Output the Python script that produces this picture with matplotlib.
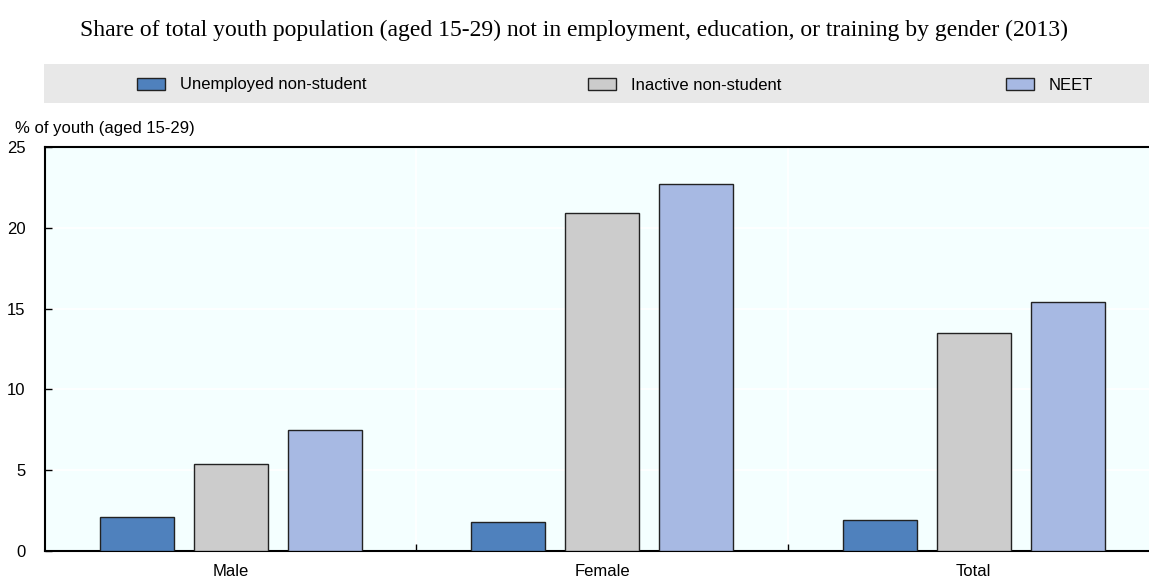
import matplotlib
matplotlib.use("Agg")
import matplotlib.pyplot as plt
from matplotlib.patches import Rectangle
import numpy as np

categories = ["Male", "Female", "Total"]
series_names = ["Unemployed non-student", "Inactive non-student", "NEET"]
unemployed = [2.1, 1.8, 1.9]
inactive = [5.4, 20.9, 13.5]
neet = [7.5, 22.7, 15.4]
colors = ["#4F81BD", "#CCCCCC", "#A7B9E3"]
yticks = [0, 5, 10, 15, 20, 25]

W, H = 1149, 577
fig = plt.figure(figsize=(W / 100, H / 100), dpi=100)
plt.rcParams['font.family'] = ['Liberation Sans', 'DejaVu Sans']

ax = fig.add_axes([45 / W, (H - 551) / H, (W - 45) / W, 404 / H])
ax.set_facecolor("#F4FFFF")

x = np.arange(len(categories))
bw = 0.199
step = 0.253
for i, (vals, c) in enumerate(zip([unemployed, inactive, neet], colors)):
    ax.bar(x + (i - 1) * step, vals, width=bw, color=c, edgecolor="#222222",
           linewidth=1.0, zorder=3)

ax.set_xlim(-0.5, -0.5 + (W - 45) / 371.5)
ax.set_ylim(0, 25)
ax.set_yticks(yticks)
ax.set_yticklabels([str(t) for t in yticks], fontsize=12)
for t in yticks[1:-1]:
    ax.axhline(t, color="white", lw=1.2, zorder=1)
for b in [0.5, 1.5]:
    ax.axvline(b, color="white", lw=1.2, zorder=1)

ax.set_xticks(x)
ax.set_xticklabels(categories, fontsize=12)
ax.tick_params(axis='x', length=0, pad=9)
ax.tick_params(axis='y', direction='in', length=5, width=1, pad=14, left=True)
ax.set_xticks([0.5, 1.5], minor=True)
ax.tick_params(axis='x', which='minor', direction='in', length=5, width=1)

ax.spines["right"].set_visible(False)
ax.spines["left"].set_linewidth(1.5)
ax.spines["bottom"].set_linewidth(1.5)
ax.spines["top"].set_linewidth(1.5)

# Title
fig.text(0.5, 1 - 30 / H, "Share of total youth population (aged 15-29) not in employment, education, or training by gender (2013)",
         ha="center", va="center", fontsize=17, family=["Liberation Serif", "DejaVu Serif"])

# Legend band
fig.patches.append(Rectangle((44 / W, 1 - 103 / H), (W - 44) / W, 39 / H,
                             transform=fig.transFigure, facecolor="#E8E8E8",
                             edgecolor="none", zorder=0))
leg_box_x = [137, 588, 1006]
for bx, name, c in zip(leg_box_x, series_names, colors):
    fig.patches.append(Rectangle((bx / W, 1 - 90 / H), 28 / W, 12 / H,
                                 transform=fig.transFigure, facecolor=c,
                                 edgecolor="#222222", lw=1.0, zorder=2))
    fig.text((bx + 43) / W, 1 - 85 / H, name, ha="left", va="center", fontsize=12)

fig.text(15 / W, 1 - 128 / H, "% of youth (aged 15-29)", ha="left", va="center", fontsize=12)

fig.savefig("out.png", dpi=100)
